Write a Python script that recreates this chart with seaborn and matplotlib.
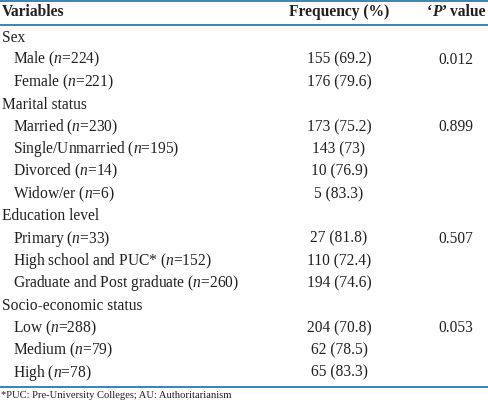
import matplotlib
matplotlib.use("Agg")
import matplotlib.pyplot as plt
import seaborn as sns

# ---- table contents ----
groups = ["Sex", "Marital status", "Education level", "Socio-economic status"]
levels = [
    ["Male", "Female"],
    ["Married", "Single/Unmarried", "Divorced", "Widow/er"],
    ["Primary", "High school and PUC*", "Graduate and Post graduate"],
    ["Low", "Medium", "High"],
]
n_sizes = [[224, 221], [230, 195, 14, 6], [33, 152, 260], [288, 79, 78]]
freq = [[155, 176], [173, 143, 10, 5], [27, 110, 194], [204, 62, 65]]
pct = [["69.2", "79.6"], ["75.2", "73", "76.9", "83.3"],
       ["81.8", "72.4", "74.6"], ["70.8", "78.5", "83.3"]]
p_values = ["0.012", "0.899", "0.507", "0.053"]
footnote = "*PUC: Pre-University Colleges; AU: Authoritarianism"

sns.set_style("white")
plt.rcParams["font.family"] = ["Liberation Serif", "DejaVu Serif"]
plt.rcParams["mathtext.fontset"] = "custom"
plt.rcParams["mathtext.rm"] = "Liberation Serif"
plt.rcParams["mathtext.it"] = "Liberation Serif:italic"

W, H = 488, 401
fig = plt.figure(figsize=(4.88, 4.01), dpi=100)
ax = fig.add_axes([0, 0, 1, 1])
ax.set_xlim(0, W)
ax.set_ylim(H, 0)
ax.axis("off")

line_col = "#2b7bab"
txt_col = "#231f20"
fs = 11.2
x_var, x_ind, x_freq, x_p = 2, 13, 339, 456

# rules
ax.axhline(1, color=line_col, lw=1.3)
ax.axhline(24.5, color=line_col, lw=1.3)
ax.axhline(387, color=line_col, lw=1.3)

# header
hy = 12.5
ax.text(x_var, hy, "Variables", fontsize=fs, fontweight="bold", va="center", color=txt_col)
ax.text(x_freq, hy, "Frequency (%)", fontsize=fs, fontweight="bold", va="center",
        ha="center", color=txt_col)

# 'P' value header built from pieces
renderer = fig.canvas.get_renderer()
pieces = [("\u2018", "normal", "bold"), ("P", "italic", "bold"), ("\u2019 value", "normal", "bold")]
tmp = [ax.text(0, hy, s, fontsize=fs, fontstyle=st, fontweight=wt, va="center", color=txt_col)
       for s, st, wt in pieces]
inv = ax.transData.inverted()
widths = []
for t in tmp:
    bb = t.get_window_extent(renderer)
    x0 = inv.transform((bb.x0, bb.y0))[0]
    x1 = inv.transform((bb.x1, bb.y0))[0]
    widths.append(x1 - x0)
xs = x_p - sum(widths) / 2
for t, w in zip(tmp, widths):
    t.set_x(xs)
    xs += w

# body rows
y = 37.5
step = 22.35
for g, lv, ns, fq, pc, pv in zip(groups, levels, n_sizes, freq, pct, p_values):
    ax.text(x_var, y, g, fontsize=fs, va="center", color=txt_col)
    y += step
    for i, (name, n, f, p) in enumerate(zip(lv, ns, fq, pc)):
        ax.text(x_ind, y, f"{name} ($n$={n})", fontsize=fs, va="center", color=txt_col)
        ax.text(x_freq, y, f"{f} ({p})", fontsize=fs, va="center", ha="center", color=txt_col)
        if i == 0:
            ax.text(x_p, y, pv, fontsize=fs, va="center", ha="center", color=txt_col)
        y += step

ax.text(1, 395, footnote, fontsize=7.6, va="center", color=txt_col)

fig.savefig("out.png", dpi=100)
